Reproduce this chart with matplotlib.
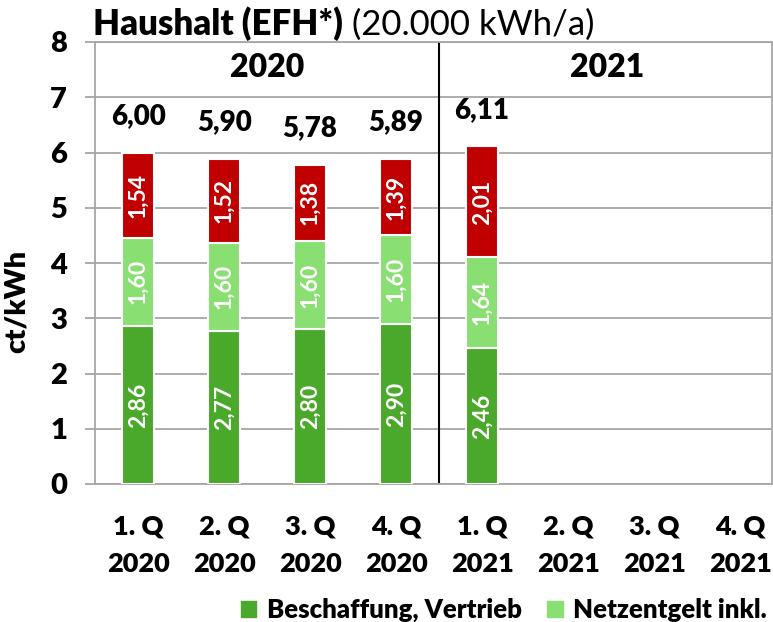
import numpy as np
import matplotlib as mpl
mpl.use('Agg')
import matplotlib.pyplot as plt
from matplotlib.patches import Patch

quarters = ['1. Q\n2020', '2. Q\n2020', '3. Q\n2020', '4. Q\n2020',
            '1. Q\n2021', '2. Q\n2021', '3. Q\n2021', '4. Q\n2021']
beschaffung = [2.86, 2.77, 2.80, 2.90, 2.46]
netzentgelt = [1.60, 1.60, 1.60, 1.60, 1.64]
umlagen = [1.54, 1.52, 1.38, 1.39, 2.01]
totals = ['6,00', '5,90', '5,78', '5,89', '6,11']
legend_labels = ['Beschaffung, Vertrieb', 'Netzentgelt inkl.']

c_dark = '#4aa82a'
c_light = '#89df72'
c_red = '#c00000'
grey = '#a6a6a6'
BW = 'heavy'

plt.rcParams['font.family'] = ['Lato', 'DejaVu Sans']

fig = plt.figure(figsize=(7.73, 6.22), dpi=100)
ax = fig.add_axes([95/773, 138/622, (772-95)/773, (484-42)/622])

x = np.arange(len(beschaffung))
w = 0.38
b1 = np.array(beschaffung)
b2 = np.array(netzentgelt)
b3 = np.array(umlagen)
ax.bar(x, b1, w, color=c_dark, edgecolor='white', linewidth=1.5, zorder=3)
ax.bar(x, b2, w, bottom=b1, color=c_light, edgecolor='white', linewidth=1.5, zorder=3)
ax.bar(x, b3, w, bottom=b1 + b2, color=c_red, edgecolor='white', linewidth=1.5, zorder=3)

def fmt(v):
    return f'{v:.2f}'.replace('.', ',')

for i in x:
    for bottom, h in [(0, b1[i]), (b1[i], b2[i]), (b1[i] + b2[i], b3[i])]:
        ax.text(i, bottom + h / 2, fmt(h), rotation=90, ha='center', va='center',
                color='white', fontsize=16.5, fontweight='bold', zorder=4)
    top = b1[i] + b2[i] + b3[i]
    ax.text(i, top + 0.66, totals[i], ha='center', va='center',
            fontsize=20, fontweight=BW)

# year header and divider
ax.axvline(3.5, ymin=0.005, ymax=1, color='black', lw=1.5, zorder=2)
ax.text(1.5, 7.53, '2020', ha='center', va='center', fontsize=23, fontweight=BW)
ax.text(5.45, 7.53, '2021', ha='center', va='center', fontsize=23, fontweight=BW)

ax.set_xlim(-0.5, 7.37)
ax.set_ylim(0, 8)
ax.set_yticks(range(9))
ax.set_yticklabels([str(i) for i in range(9)], fontsize=21, fontweight=BW)
ax.set_xticks(range(8))
ax.set_xticklabels(quarters, fontsize=19.5, fontweight=BW, linespacing=1.65)
ax.tick_params(axis='x', length=0, pad=22)
ax.tick_params(axis='y', length=7, width=1.3, color=grey, direction='out', pad=13)
ax.set_ylabel('ct/kWh', fontsize=21, fontweight=BW)
ax.yaxis.set_label_coords(-95/677 + 30/677, 0.5 - (301 - 263) / 442)
ax.grid(axis='y', color=grey, lw=1.3, zorder=0)
for s in ax.spines.values():
    s.set_color(grey)
    s.set_linewidth(1.3)

t = fig.text(93/773, 1 - 35/622, 'Haushalt (EFH*)', fontsize=25, fontweight=BW,
             va='baseline', ha='left')
ax.annotate(' (20.000 kWh/a)', xy=(1, 0), xycoords=t, va='bottom', ha='left',
            fontsize=25)

handles = [Patch(color=c_dark), Patch(color=c_light)]
fig.legend(handles, legend_labels, loc='center left', bbox_to_anchor=(228/773, 1 - 610/622),
           ncol=2, frameon=False, prop={'size': 18.5, 'weight': BW},
           handlelength=0.6, handleheight=0.6, handletextpad=0.4, columnspacing=1.0,
           borderpad=0)

fig.savefig('out.png', dpi=100)
